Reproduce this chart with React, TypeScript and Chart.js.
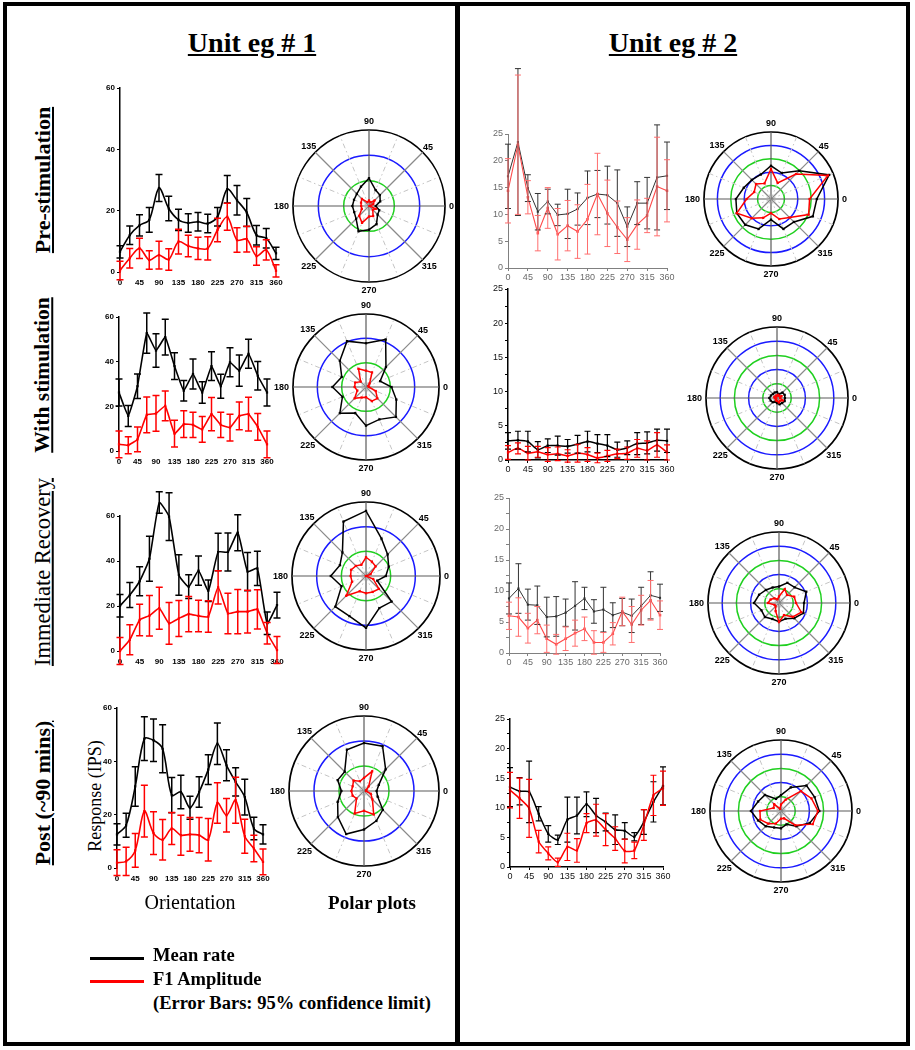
import React, { useEffect, useRef } from 'react';
import { Chart, registerables } from 'chart.js';

Chart.register(...registerables);

const SANS = '"Liberation Sans", Arial, sans-serif';
const SERIF = '"Liberation Serif", "Times New Roman", serif';
Chart.defaults.font.family = SANS;

// ---------- DATA ----------
const orientations = [0, 22.5, 45, 67.5, 90, 112.5, 135, 157.5, 180, 202.5, 225, 247.5, 270, 292.5, 315, 337.5, 360];
const orientationTicks = [0, 45, 90, 135, 180, 225, 270, 315, 360];
const polarAngleLabels = ['0', '45', '90', '135', '180', '225', '270', '315'];

// Unit eg #1
const u1PreMean = [6.6, 12, 15.2, 17, 27.4, 20.7, 17, 16, 16.4, 15.8, 18, 27, 23.4, 19.4, 12, 11, 6.1];
const u1PreMeanErr = [2, 3, 3.5, 4, 4.4, 4, 3.5, 3, 3, 3, 3, 4.5, 4.8, 4.6, 3.2, 3.2, 2];
const u1PreF1 = [0.5, 4.5, 7.7, 3.9, 5.5, 4.1, 9.9, 8.5, 7.7, 7.7, 13.7, 18, 10.4, 10.7, 5.2, 7.2, 0.4];
const u1PreF1Err = [3, 3.2, 3.3, 3, 4.5, 3.5, 4, 3.5, 3.6, 3.8, 3.8, 4.4, 4, 4.2, 3, 3.3, 2];

const u1StimMean = [26.2, 15.7, 29, 52.8, 45, 51, 38, 27, 34.5, 26.2, 38, 29, 39.7, 36, 43.5, 33.7, 26.2];
const u1StimMeanErr = [6, 4.7, 5.5, 9, 7.5, 8, 6, 4.6, 6.7, 4.8, 6.4, 5.4, 6.5, 7, 6.5, 6.4, 6];
const u1StimF1 = [3, 2.6, 5.2, 16.2, 16.8, 20.2, 7.8, 12, 11.7, 9.7, 16.5, 11.7, 10.5, 15.7, 16.5, 10.8, 3];
const u1StimF1Err = [6, 3.8, 5.5, 8, 8, 6.7, 6, 6, 5.6, 5.8, 7.4, 5.6, 6, 6.2, 7.6, 6, 6];

const u1RecMean = [20.1, 24.9, 31, 41, 66, 59.7, 33.8, 28.6, 35.7, 26.8, 44, 44, 52.6, 35.3, 36.7, 12.3, 20.4];
const u1RecMeanErr = [5, 5.6, 6.4, 10, 4.8, 10.6, 9, 5.3, 6.5, 4.8, 8.3, 8.4, 8, 8.5, 7.6, 5, 5.7];
const u1RecF1 = [0, 5, 13.8, 15.7, 19, 12.3, 14.5, 16.4, 15.6, 15.3, 28.3, 16.7, 17.5, 17.5, 18.5, 7.9, 0.4];
const u1RecF1Err = [6, 6.7, 7, 9, 9.3, 9.3, 8, 7.8, 7, 7, 7.4, 9, 9.8, 9.5, 8.7, 4.8, 6];

const u1PostMean = [12.6, 16, 30.6, 48.5, 47.9, 44.7, 27.3, 28.5, 22.6, 28.5, 36.9, 46.6, 38.5, 32.3, 26.6, 14.8, 12.6];
const u1PostMeanErr = [4, 4.5, 7.4, 8.2, 8, 9, 6.6, 6.3, 4.3, 5.7, 5.6, 7.8, 5.8, 5.3, 6.7, 4.2, 3.6];
const u1PostF1 = [2, 2.5, 6.6, 21.3, 13.1, 10.6, 14.8, 12.3, 12.6, 12.3, 10.6, 24.4, 19.8, 25.4, 11.9, 7.3, 2.3];
const u1PostF1Err = [4.8, 5.3, 6.3, 9.7, 8, 7.6, 6, 7.5, 6.3, 6.6, 8, 7.6, 6.3, 8.6, 6.4, 5, 4.8];

// Unit eg #2
const u2PreMean = [17.1, 23.5, 14.9, 10.5, 12.4, 9.9, 10.1, 11, 13.1, 13.8, 13.6, 12.1, 7.7, 12.1, 12.1, 16.9, 17.2];
const u2PreMeanErr = [6, 13.7, 2.5, 3.4, 2.3, 2, 4.6, 3, 5, 4.4, 5.4, 6.2, 3.7, 4, 4.8, 9.8, 6.3];
const u2PreF1 = [14.4, 23, 13.2, 6.5, 11.2, 6.3, 7.9, 6.8, 9.1, 13.8, 10.2, 7.6, 5.3, 8.1, 9.8, 15.2, 14.4];
const u2PreF1Err = [6, 13, 3.1, 3.3, 3.8, 4.8, 4.7, 5, 6.5, 7.6, 6.2, 4.9, 4.1, 4.6, 3.2, 9.2, 5.8];

const u2StimMean = [2.8, 2.9, 2.7, 1.5, 2.1, 2.1, 2.0, 2.3, 2.7, 2.4, 2.1, 1.5, 1.8, 2.4, 2.5, 2.9, 2.8];
const u2StimMeanErr = [1.2, 1.3, 1.5, 1.2, 1.0, 1.4, 1.0, 1.3, 1.5, 1.3, 1.6, 1.1, 1.0, 1.6, 1.6, 1.6, 1.7];
const u2StimF1 = [1.1, 1.7, 1.0, 1.2, 0.8, 0.9, 0.6, 1.0, 0.8, 0.3, 0.6, 0.9, 1.0, 1.7, 1.4, 2.2, 1.1];
const u2StimF1Err = [1.0, 0.8, 1.0, 0.8, 1.0, 1.0, 0.9, 1.3, 1.0, 0.7, 0.8, 0.7, 0.9, 1.3, 1.4, 1.8, 1.1];

const u2RecMean = [8.8, 10.4, 7.8, 7.7, 5.8, 5.9, 6.5, 7.6, 8.8, 6.7, 7.0, 6.1, 6.6, 6.0, 7.6, 9.3, 8.9];
const u2RecMeanErr = [2.5, 4, 2.5, 3.1, 3.2, 3.2, 2.2, 3.9, 1.8, 1.9, 3.6, 2, 2.2, 2.7, 3, 3.8, 2.2];
const u2RecF1 = [6.0, 5.8, 4.0, 5.3, 2.3, 1.4, 2.3, 3.2, 3.9, 1.7, 1.7, 3.1, 6.7, 4.6, 6.9, 8.5, 6.1];
const u2RecF1Err = [2.2, 3.1, 2.4, 2.2, 2.2, 1.6, 1.9, 2.1, 1.9, 1.9, 1.6, 1.8, 2.3, 2.9, 2.4, 3.2, 2.3];

const u2PostMean = [13.5, 12.8, 12.7, 9.0, 5.6, 4.6, 8.0, 8.7, 10.6, 8.7, 7.6, 6.3, 6.1, 5.1, 7.6, 11.0, 13.7];
const u2PostMeanErr = [3.3, 2.3, 5.2, 1.2, 1.4, 0.8, 3.8, 3.1, 2.1, 2.9, 1.5, 2.5, 1.4, 0.7, 2.1, 3.4, 3.2];
const u2PostF1 = [13.0, 11.6, 9.9, 4.3, 2.3, 0.8, 3.4, 2.8, 7.4, 7.9, 6.3, 4.8, 2.7, 2.8, 7.1, 12.1, 13.3];
const u2PostF1Err = [3, 3.4, 4.9, 1.9, 1.1, 0.7, 2.3, 2, 1.6, 2.7, 2.7, 2, 2, 1.4, 2.6, 3.4, 2.9];

// ---------- STYLES ----------
const GREEN = '#1fd01f';
const BLUE = '#1a1aff';
const u1Rings = ['', GREEN, BLUE, '#000'];
const u2Rings = ['', GREEN, BLUE, GREEN, BLUE, '#000'];

const AX_W = 28;
const AX_H = 14;
const PAD_T = 80;
const PAD_R = 16;
const PAD_B = 4;

const errorBarPlugin = {
  id: 'errorBars',
  afterDatasetsDraw(chart: any) {
    const ctx = chart.ctx;
    const yScale = chart.scales.y;
    for (let di = chart.data.datasets.length - 1; di >= 0; di--) {
      const ds = chart.data.datasets[di];
      if (!ds.errors) continue;
      const meta = chart.getDatasetMeta(di);
      ctx.save();
      ctx.strokeStyle = ds.errorColor;
      ctx.lineWidth = ds.errorWidth;
      meta.data.forEach((pt: any, i: number) => {
        const v = ds.data[i].y;
        const e = ds.errors[i];
        const x = pt.x;
        const yTop = yScale.getPixelForValue(v + e);
        const yBot = yScale.getPixelForValue(v - e);
        const c = ds.capHalf;
        ctx.beginPath();
        ctx.moveTo(x, yTop);
        ctx.lineTo(x, yBot);
        ctx.moveTo(x - c, yTop);
        ctx.lineTo(x + c, yTop);
        ctx.moveTo(x - c, yBot);
        ctx.lineTo(x + c, yBot);
        ctx.stroke();
      });
      ctx.restore();
    }
  },
};

const polarLabelPlugin = {
  id: 'polarLabels',
  afterDraw(chart: any) {
    const scale = chart.scales.r;
    const ctx = chart.ctx;
    ctx.save();
    ctx.font = 'bold 9px ' + SANS;
    ctx.fillStyle = '#000';
    ctx.textAlign = 'center';
    ctx.textBaseline = 'middle';
    chart.data.labels.forEach((lab: string, i: number) => {
      if (!lab) return;
      const ang = scale.getIndexAngle(i) - Math.PI / 2;
      const c = Math.cos(ang);
      const s = Math.sin(ang);
      const w = ctx.measureText(lab).width;
      const h = 9;
      const d = scale.drawingArea + 4 + Math.max(Math.abs(c) * w / 2, Math.abs(s) * h / 2);
      const p = scale.getPointPosition(i, d);
      ctx.fillText(lab, p.x, p.y + 0.5);
    });
    ctx.restore();
  },
};

type SeriesStyle = { color: string; width: number; errColor: string; errWidth: number; cap: number; pt: number };

const U1_BLACK: SeriesStyle = { color: '#000', width: 1.6, errColor: '#000', errWidth: 1.5, cap: 3.5, pt: 1.6 };
const U1_RED: SeriesStyle = { color: '#ff0000', width: 1.6, errColor: '#ff0000', errWidth: 1.5, cap: 3.5, pt: 1.6 };
const U2L_BLACK: SeriesStyle = { color: '#333', width: 1, errColor: '#333', errWidth: 1, cap: 3, pt: 1.5 };
const U2L_RED: SeriesStyle = { color: '#ff4a4a', width: 1.1, errColor: '#ff6e6e', errWidth: 1, cap: 3, pt: 1.8 };
const U2D_BLACK: SeriesStyle = { color: '#000', width: 1.5, errColor: '#000', errWidth: 1.2, cap: 3, pt: 1.6 };
const U2D_RED: SeriesStyle = { color: '#ff0000', width: 1.5, errColor: '#ff0000', errWidth: 1.2, cap: 3, pt: 1.6 };

function lineDataset(vals: number[], errs: number[], s: SeriesStyle, tension: number) {
  return {
    data: orientations.map((x, i) => ({ x, y: vals[i] })),
    errors: errs,
    errorColor: s.errColor,
    errorWidth: s.errWidth,
    capHalf: s.cap,
    borderColor: s.color,
    backgroundColor: s.color,
    pointBackgroundColor: s.color,
    borderWidth: s.width,
    pointRadius: s.pt,
    pointStyle: 'rect',
    pointBorderWidth: 0,
    tension,
    clip: false,
    fill: false,
  };
}

type LineOpts = {
  L: number; R: number; T: number; B: number;
  yMax: number; unit: 1 | 2; light?: boolean; tension: number;
  mean: number[]; meanErr: number[]; f1: number[]; f1Err: number[];
};

function lineConfig(o: LineOpts) {
  const blackS = o.unit === 1 ? U1_BLACK : o.light ? U2L_BLACK : U2D_BLACK;
  const redS = o.unit === 1 ? U1_RED : o.light ? U2L_RED : U2D_RED;
  const u1 = o.unit === 1;
  const axisColor = u1 ? '#000' : o.light ? '#808080' : '#000';
  const labelColor = u1 ? '#000' : o.light ? '#6a6a6a' : '#111';
  const tickFont = u1 ? { size: 8, weight: 'bold' as const, family: SANS } : { size: 9, family: SANS };
  return {
    type: 'line' as const,
    data: {
      datasets: [lineDataset(o.f1, o.f1Err, redS, o.tension), lineDataset(o.mean, o.meanErr, blackS, o.tension)],
    },
    options: {
      animation: false as const,
      responsive: false,
      events: [] as any[],
      layout: { padding: { top: PAD_T, right: PAD_R, bottom: PAD_B, left: 0 }, autoPadding: false },
      plugins: { legend: { display: false }, tooltip: { enabled: false } },
      scales: {
        x: {
          type: 'linear' as const,
          min: 0,
          max: 360,
          afterBuildTicks: (s: any) => { s.ticks = orientationTicks.map((v) => ({ value: v })); },
          ticks: { autoSkip: false, maxRotation: 0, color: labelColor, font: tickFont, padding: u1 ? 3 : 1 },
          grid: { display: !u1, drawOnChartArea: false, tickLength: 3, color: axisColor },
          border: { display: !u1, color: axisColor, width: o.light ? 1 : 1.5 },
          afterFit: (s: any) => { s.height = AX_H; s.paddingLeft = 0; s.paddingRight = 0; },
        },
        y: {
          min: 0,
          max: o.yMax,
          ticks: {
            stepSize: u1 ? 20 : 2.5,
            color: labelColor,
            font: tickFont,
            padding: 2,
            callback: (v: any) => (u1 ? String(v) : v % 5 === 0 ? String(v) : ''),
          },
          grid: { drawOnChartArea: false, tickLength: 3, color: axisColor },
          border: { display: true, color: axisColor, width: o.light ? 1 : 1.5 },
          afterFit: (s: any) => { s.width = AX_W; s.paddingTop = 0; s.paddingBottom = 0; },
        },
      },
    },
    plugins: [errorBarPlugin],
  };
}

const POLAR_PAD = 30;
const polarOrder = Array.from({ length: 16 }, (_, k) => (16 - k) % 16);

type PolarOpts = { cx: number; cy: number; r: number; max: number; step: number; rings: string[]; mean: number[]; f1: number[] };

function polarConfig(o: PolarOpts) {
  const labels = polarOrder.map((i) => {
    const a = orientations[i];
    return a % 45 === 0 ? polarAngleLabels[a / 45] : '';
  });
  const mk = (vals: number[], color: string) => ({
    data: polarOrder.map((i) => vals[i]),
    borderColor: color,
    backgroundColor: color,
    pointBackgroundColor: color,
    borderWidth: 1.5,
    pointRadius: 1.6,
    pointStyle: 'rect',
    pointBorderWidth: 0,
    fill: false,
    tension: 0,
  });
  return {
    type: 'radar' as const,
    data: { labels, datasets: [mk(o.f1, '#ff0000'), mk(o.mean, '#000')] },
    options: {
      animation: false as const,
      responsive: false,
      events: [] as any[],
      layout: { padding: POLAR_PAD },
      plugins: { legend: { display: false }, tooltip: { enabled: false } },
      scales: {
        r: {
          min: 0,
          max: o.max,
          startAngle: 90,
          ticks: { display: false, stepSize: o.step },
          pointLabels: { display: false },
          grid: {
            circular: true,
            color: (ctx: any) => o.rings[ctx.index] || '#000',
            lineWidth: (ctx: any) => (ctx.index === o.rings.length - 1 ? 1.7 : 1.5),
          },
          angleLines: {
            color: (ctx: any) => (ctx.index % 4 === 0 ? '#5a5a5a' : ctx.index % 2 === 0 ? '#8a8a8a' : '#c4c4c4'),
            lineWidth: (ctx: any) => (ctx.index % 2 === 0 ? 1.2 : 1),
            borderDash: (ctx: any) => (ctx.index % 2 === 0 ? [] : [5, 3, 1.5, 3]),
          },
        },
      },
    },
    plugins: [polarLabelPlugin],
  };
}

// ---------- COMPONENTS ----------
function ChartCanvas({ left, top, width, height, config }: any) {
  const ref = useRef<HTMLCanvasElement>(null);
  useEffect(() => {
    const chart = new Chart(ref.current as HTMLCanvasElement, config);
    return () => chart.destroy();
  }, []);
  return (
    <canvas
      ref={ref}
      width={width}
      height={height}
      style={{ position: 'absolute', left, top, width, height }}
    />
  );
}

function LinePanel(o: LineOpts) {
  const width = AX_W + (o.R - o.L) + PAD_R;
  const height = PAD_T + (o.B - o.T) + AX_H + PAD_B;
  return <ChartCanvas left={o.L - AX_W} top={o.T - PAD_T} width={width} height={height} config={lineConfig(o)} />;
}

function PolarPanel(o: PolarOpts) {
  const size = 2 * o.r + 2 * POLAR_PAD;
  return <ChartCanvas left={o.cx - o.r - POLAR_PAD} top={o.cy - o.r - POLAR_PAD} width={size} height={size} config={polarConfig(o)} />;
}

function Txt({ x, y, size, bold, children, rotate, underline, family, align }: any) {
  const tx = align === 'left' ? '0' : '-50%';
  return (
    <div
      style={{
        position: 'absolute',
        left: x,
        top: y,
        transform: `translate(${tx},-50%)${rotate ? ' rotate(-90deg)' : ''}`,
        fontFamily: family || SERIF,
        fontSize: size,
        fontWeight: bold ? 'bold' : 'normal',
        lineHeight: 1,
        whiteSpace: 'nowrap',
        textDecoration: underline ? 'underline' : 'none',
        color: '#000',
      }}
    >
      {children}
    </div>
  );
}

export default function App() {
  return (
    <div style={{ position: 'absolute', left: 0, top: 0, width: 915, height: 1050, background: '#fff', overflow: 'hidden' }}>
      {/* frames */}
      <div style={{ position: 'absolute', left: 3, top: 2, width: 907, height: 1044, border: '4px solid #000', boxSizing: 'border-box' }} />
      <div style={{ position: 'absolute', left: 455, top: 2, width: 5, height: 1044, background: '#000' }} />

      {/* titles */}
      <Txt x={252} y={43} size={28} bold underline>Unit eg # 1</Txt>
      <Txt x={673} y={43} size={28} bold underline>Unit eg # 2</Txt>

      {/* row labels */}
      <Txt x={43} y={180} size={22} bold underline rotate>Pre-stimulation</Txt>
      <Txt x={43} y={375} size={21.5} bold underline rotate>With stimulation</Txt>
      <Txt x={43} y={572} size={22.5} underline rotate>Immediate Recovery</Txt>
      <Txt x={43} y={793} size={22} bold underline rotate>Post (~90 mins)</Txt>
      <Txt x={95} y={796} size={18} rotate>Response (IPS)</Txt>

      {/* Unit 1 line charts */}
      <LinePanel L={120} R={276} T={88} B={272} yMax={60} unit={1} tension={0.3}
        mean={u1PreMean} meanErr={u1PreMeanErr} f1={u1PreF1} f1Err={u1PreF1Err} />
      <LinePanel L={119} R={267} T={317} B={451} yMax={60} unit={1} tension={0.1}
        mean={u1StimMean} meanErr={u1StimMeanErr} f1={u1StimF1} f1Err={u1StimF1Err} />
      <LinePanel L={120} R={277} T={516} B={651} yMax={60} unit={1} tension={0.15}
        mean={u1RecMean} meanErr={u1RecMeanErr} f1={u1RecF1} f1Err={u1RecF1Err} />
      <LinePanel L={117} R={263} T={708} B={868} yMax={60} unit={1} tension={0.3}
        mean={u1PostMean} meanErr={u1PostMeanErr} f1={u1PostF1} f1Err={u1PostF1Err} />

      {/* Unit 1 polar plots */}
      <PolarPanel cx={369} cy={206} r={76} max={75} step={25} rings={u1Rings} mean={u1PreMean} f1={u1PreF1} />
      <PolarPanel cx={366} cy={387} r={73} max={75} step={25} rings={u1Rings} mean={u1StimMean} f1={u1StimF1} />
      <PolarPanel cx={366} cy={576} r={74} max={75} step={25} rings={u1Rings} mean={u1RecMean} f1={u1RecF1} />
      <PolarPanel cx={364} cy={791} r={75} max={75} step={25} rings={u1Rings} mean={u1PostMean} f1={u1PostF1} />

      {/* Unit 2 line charts */}
      <LinePanel L={508} R={667} T={134} B={268} yMax={25} unit={2} light tension={0}
        mean={u2PreMean} meanErr={u2PreMeanErr} f1={u2PreF1} f1Err={u2PreF1Err} />
      <LinePanel L={508} R={667} T={289} B={460} yMax={25} unit={2} tension={0.2}
        mean={u2StimMean} meanErr={u2StimMeanErr} f1={u2StimF1} f1Err={u2StimF1Err} />
      <LinePanel L={509} R={660} T={498} B={653} yMax={25} unit={2} light tension={0}
        mean={u2RecMean} meanErr={u2RecMeanErr} f1={u2RecF1} f1Err={u2RecF1Err} />
      <LinePanel L={510} R={663} T={719} B={867} yMax={25} unit={2} tension={0.2}
        mean={u2PostMean} meanErr={u2PostMeanErr} f1={u2PostF1} f1Err={u2PostF1Err} />

      {/* Unit 2 polar plots */}
      <PolarPanel cx={771} cy={199} r={67} max={25} step={5} rings={u2Rings} mean={u2PreMean} f1={u2PreF1} />
      <PolarPanel cx={777} cy={398} r={71} max={25} step={5} rings={u2Rings} mean={u2StimMean} f1={u2StimF1} />
      <PolarPanel cx={779} cy={603} r={71} max={25} step={5} rings={u2Rings} mean={u2RecMean} f1={u2RecF1} />
      <PolarPanel cx={781} cy={811} r={71} max={25} step={5} rings={u2Rings} mean={u2PostMean} f1={u2PostF1} />

      {/* bottom captions */}
      <Txt x={190} y={902} size={20}>Orientation</Txt>
      <Txt x={372} y={902} size={19} bold>Polar plots</Txt>

      {/* legend */}
      <div style={{ position: 'absolute', left: 90, top: 957, width: 54, height: 3, background: '#000' }} />
      <div style={{ position: 'absolute', left: 90, top: 980, width: 54, height: 3, background: '#ff0000' }} />
      <Txt x={153} y={955} size={18.5} bold align="left">Mean rate</Txt>
      <Txt x={153} y={979} size={18.5} bold align="left">F1 Amplitude</Txt>
      <Txt x={153} y={1003} size={18.5} bold align="left">(Error Bars: 95% confidence limit)</Txt>
    </div>
  );
}
